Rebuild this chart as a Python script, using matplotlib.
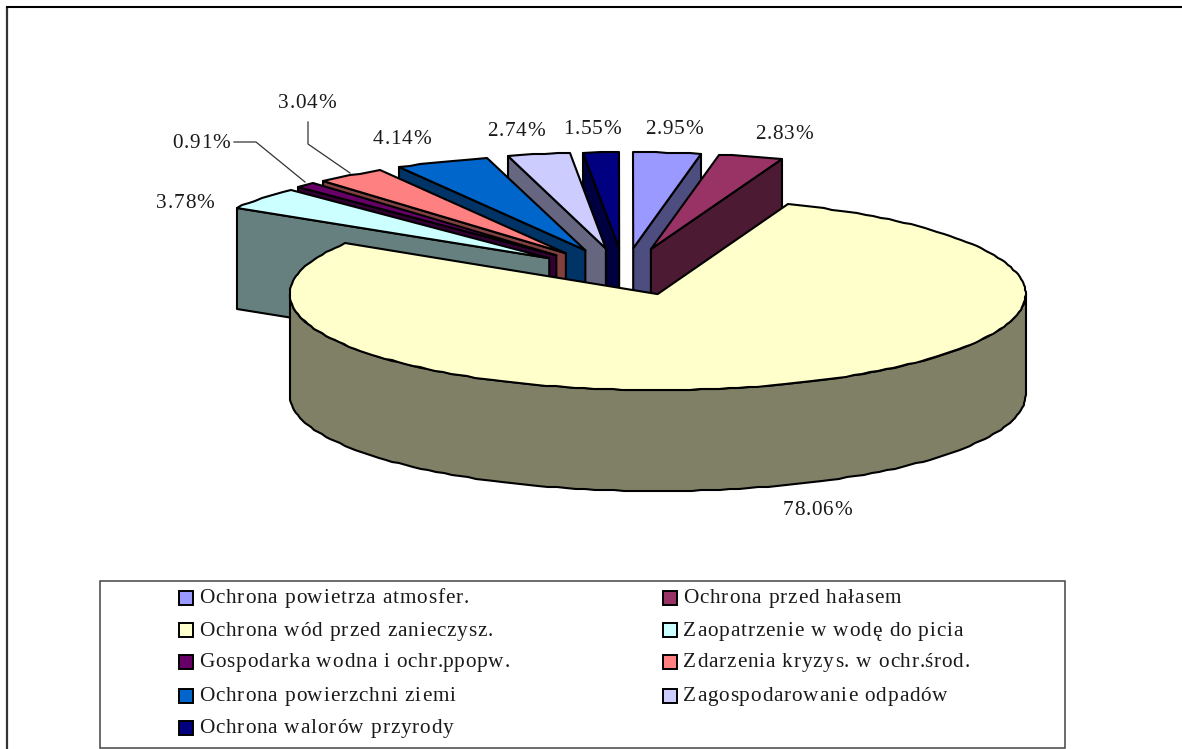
import numpy as np
import matplotlib
matplotlib.use("Agg")
import matplotlib.pyplot as plt
from matplotlib.patches import Polygon, Rectangle
from matplotlib.text import Text
from matplotlib.transforms import Bbox

# Share of each category, in pie order (clockwise from 12 o'clock)
categories = ["Ochrona powietrza atmosfer.", "Ochrona przed hałasem",
              "Ochrona wód przed zanieczysz.", "Zaopatrzenie w wodę do picia",
              "Gospodarka wodna i ochr.ppopw.", "Zdarzenia kryzys. w ochr.środ.",
              "Ochrona powierzchni ziemi", "Zagospodarowanie odpadów",
              "Ochrona walorów przyrody"]
values = [2.95, 2.83, 78.06, 3.78, 0.91, 3.04, 4.14, 2.74, 1.55]
colors = ["#9999FF", "#993366", "#FFFFCC", "#CCFFFF", "#660066",
          "#FF8080", "#0066CC", "#CCCCFF", "#000080"]

plt.rcParams["font.family"] = ["Liberation Serif", "DejaVu Serif"]
TEXT = "#1a1a1a"
FS = 15.3
SPACING = 0.85  # extra pixels between letters, matplotlib has no option for it


class SpacedText(Text):
    # one text object, drawn letter by letter with a little tracking
    def _advance(self, renderer, s):
        prop = self.get_fontproperties()
        w = renderer.get_text_width_height_descent(s + "|", prop, False)[0]
        return w - renderer.get_text_width_height_descent("|", prop, False)[0]

    def _origin(self, renderer):
        x, y = self.get_transform().transform(self.get_position())
        s = self.get_text()
        total = self._advance(renderer, s) + SPACING * (len(s) - 1)
        if self.get_ha() == "center":
            x -= total / 2
        return x, y, total

    def get_window_extent(self, renderer=None, dpi=None):
        renderer = renderer or self.figure.canvas.get_renderer()
        x, y, total = self._origin(renderer)
        size = self.get_fontsize() * 100 / 72
        return Bbox.from_extents(x, y - 0.22 * size, x + total, y + 0.68 * size)

    def draw(self, renderer):
        x, y, _ = self._origin(renderer)
        gc = renderer.new_gc()
        gc.set_foreground(self.get_color())
        gc.set_antialiased(True)
        s = self.get_text()
        for i, ch in enumerate(s):
            px = x + self._advance(renderer, s[:i]) + i * SPACING
            renderer.draw_text(gc, px, renderer.height - y, ch, self.get_fontproperties(), 0)
        gc.restore()


def put_text(x, y, s, ha="left"):
    ax.add_artist(SpacedText(x, y, s, fontsize=FS, color=TEXT, ha=ha, va="baseline"))


# Work in image pixels so the layout is easy to compare with the reference
fig = plt.figure(figsize=(11.82, 7.49), dpi=100)
ax = fig.add_axes([0, 0, 1, 1])
ax.set_xlim(0, 1182)
ax.set_ylim(749, 0)
ax.axis("off")

# Pie geometry
cx, cy = 624, 275
rx, ry = 368, 96
depth = 101
explode_x = [0.27, 0.27, 0.285, 0.26, 0.27, 0.27, 0.27, 0.27, 0.27]
explode_y = [0.28, 0.28, 0.21, 0.28, 0.28, 0.28, 0.28, 0.28, 0.28]


def rim(x0, y0, a0, a1):
    t = np.radians(np.linspace(a0, a1, max(int(abs(a1 - a0) / 1.5), 2)))
    pts = np.column_stack([x0 + rx * np.sin(t), y0 - ry * np.cos(t)])
    # the original outline is slightly stepped, not a clean curve
    return np.round(pts)


def shade(hex_color):
    return tuple(c * 0.5 for c in matplotlib.colors.to_rgb(hex_color))


edges = np.concatenate([[0], np.cumsum(values)]) / sum(values) * 360
slices = []
for i in range(len(values)):
    a0, a1 = edges[i], edges[i + 1]
    mid = np.radians((a0 + a1) / 2)
    x0 = cx + explode_x[i] * rx * np.sin(mid)
    y0 = cy - explode_y[i] * ry * np.cos(mid)
    slices.append((a0, a1, x0, y0))

# Back to front: the big slice has to end up on top of all the walls
for i in [8, 7, 6, 5, 4, 3, 0, 1, 2]:
    a0, a1, x0, y0 = slices[i]
    top = rim(x0, y0, a0, a1)
    wall = shade(colors[i])
    if i == 2:
        # curved front wall
        arc = rim(x0, y0, 90, 270)
        side = np.vstack([arc, (arc + [0, depth])[::-1]])
    elif i < 2:
        # right hand cut face
        p = top[-1]
        side = [(x0, y0), p, p + [0, depth], (x0, y0 + depth)]
    else:
        p = top[0]
        side = [(x0, y0), p, p + [0, depth], (x0, y0 + depth)]
    ax.add_patch(Polygon(side, closed=True, fc=wall, ec="black", lw=1.5, joinstyle="round"))
    ax.add_patch(Polygon(np.vstack([[x0, y0], top]), closed=True, fc=colors[i],
                         ec="black", lw=1.5, joinstyle="round"))

# Percent labels (baseline positions)
label_x = [674, 784, 817, 185, 201, 307, 402, 516, 592]
label_y = [134, 139, 515, 208, 148, 108, 144, 136, 134]
for v, lx, ly in zip(values, label_x, label_y):
    put_text(lx, ly, f"{v:.2f}%", ha="center")

# Leader lines
ax.plot([234, 256, 305], [142, 142, 182], color="#333333", lw=0.9)
ax.plot([308, 308, 350], [122, 144, 173], color="#333333", lw=0.9)

# Page frame: only the top and left edges show in the crop
ax.plot([7, 7], [749, 6.5], color="#333333", lw=1.6, solid_capstyle="butt")
ax.plot([6, 1182], [6.5, 6.5], color="black", lw=1.5, solid_capstyle="butt")

# Legend
ax.add_patch(Rectangle((100, 581), 965, 167, fc="white", ec="#444444", lw=1.1))
swatch_x = [179, 663]
row_y = [598, 630, 662, 696, 728]
base_y = [603, 636, 667, 701, 733]
for i, name in enumerate(categories):
    col = i % 2
    y = row_y[i // 2]
    ax.add_patch(Rectangle((swatch_x[col], y - 7), 14, 14, fc=colors[i], ec="black", lw=1.4))
    put_text(swatch_x[col] + 20, base_y[i // 2], name)

fig.savefig("out.png", dpi=100)
